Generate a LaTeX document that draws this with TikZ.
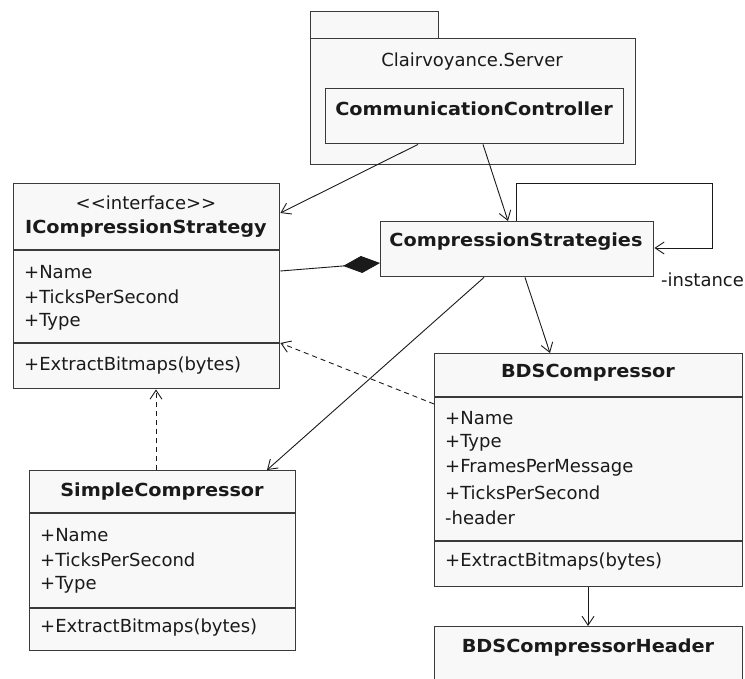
\documentclass[tikz,border=0pt]{standalone}
\usepackage{fontspec}
\setmainfont{DejaVu Sans}[BoldFeatures={FakeStretch=1.07}]
\usetikzlibrary{arrows.meta}
\definecolor{boxfill}{HTML}{F8F8F8}
\definecolor{edge}{HTML}{3A3A3A}
\definecolor{ink}{HTML}{1A1A1A}
\tikzset{
  box/.style={draw=edge, fill=boxfill, line width=1.4pt, inner sep=0pt, rectangle},
  divider/.style={draw=edge, line width=1.4pt},
  hdr/.style={font=\fontsize{18}{21}\selectfont\bfseries, text=ink, inner sep=0pt},
  attr/.style={font=\fontsize{18}{21}\selectfont, text=ink, inner sep=0pt, anchor=west},
  plain/.style={font=\fontsize{18}{21}\selectfont, text=ink, inner sep=0pt},
  assoc/.style={draw=ink, line width=0.9pt, -{Straight Barb[length=9pt,width=12pt]}},
  realize/.style={draw=ink, line width=0.9pt, dash pattern=on 5pt off 4pt, -{Straight Barb[length=9pt,width=12pt]}},
  compose/.style={draw=ink, line width=0.9pt, -{Diamond[length=37pt,width=17pt,fill=ink]}}
}
\begin{document}
\begin{tikzpicture}[x=1pt,y=-1pt]
\useasboundingbox (0,0) rectangle (745,679);
\clip (0,0) rectangle (745,679);
\fill[white] (0,0) rectangle (745,679);

% package
\node[box, anchor=north west, minimum width=128pt, minimum height=27pt] (tab) at (310,11) {};
\node[box, anchor=north west, minimum width=325pt, minimum height=126pt] (pkg) at (310,38) {};
\node[plain] (pkgname) at (472,62) {Clairvoyance.Server};
\node[box, anchor=north west, minimum width=298pt, minimum height=55pt] (cc) at (325,88) {};
\node[hdr] (cct) at (474,109) {CommunicationController};

% ICompressionStrategy
\node[box, anchor=north west, minimum width=266pt, minimum height=205pt] (ics) at (13,183) {};
\node[plain] (icsst) at (146,203) {{<}{<}interface{>}{>}};
\node[hdr] (icst) at (146,229) {ICompressionStrategy};
\draw[divider] (ics.west |- 0,250) -- (ics.east |- 0,250);
\node[attr] (icsa1) at (24,272) {+Name};
\node[attr] (icsa2) at (24,297) {+TicksPerSecond};
\node[attr] (icsa3) at (24,322) {+Type};
\draw[divider] (ics.west |- 0,343) -- (ics.east |- 0,343);
\node[attr] (icsm1) at (24,366) {+ExtractBitmaps(bytes)};

% CompressionStrategies
\node[box, anchor=north west, minimum width=273pt, minimum height=55pt] (cs) at (380,221) {};
\node[hdr] (cst) at (516,242) {CompressionStrategies};
\node[attr] (inst) at (661,280) {-instance};

% SimpleCompressor
\node[box, anchor=north west, minimum width=266pt, minimum height=180pt] (sc) at (29,470) {};
\node[hdr] (sct) at (162,492) {SimpleCompressor};
\draw[divider] (sc.west |- 0,513) -- (sc.east |- 0,513);
\node[attr] (sca1) at (40,535) {+Name};
\node[attr] (sca2) at (40,560) {+TicksPerSecond};
\node[attr] (sca3) at (40,585) {+Type};
\draw[divider] (sc.west |- 0,608) -- (sc.east |- 0,608);
\node[attr] (scm1) at (40,628) {+ExtractBitmaps(bytes)};

% BDSCompressor
\node[box, anchor=north west, minimum width=308pt, minimum height=233pt] (bds) at (434,353) {};
\node[hdr] (bdst) at (588,373) {BDSCompressor};
\draw[divider] (bds.west |- 0,397) -- (bds.east |- 0,397);
\node[attr] (bdsa1) at (445,418) {+Name};
\node[attr] (bdsa2) at (445,443) {+Type};
\node[attr] (bdsa3) at (445,468) {+FramesPerMessage};
\node[attr] (bdsa4) at (445,493) {+TicksPerSecond};
\node[attr] (bdsa5) at (445,518) {-header};
\draw[divider] (bds.west |- 0,541) -- (bds.east |- 0,541);
\node[attr] (bdsm1) at (445,562) {+ExtractBitmaps(bytes)};

% BDSCompressorHeader
\node[box, anchor=north west, minimum width=308pt, minimum height=90pt] (bdsh) at (434,626) {};
\node[hdr] (bdsht) at (588,648) {BDSCompressorHeader};

% connectors
\draw[assoc] (cc.south -| 418,0) -- (ics.east |- 0,213);
\draw[assoc] (cc.south -| 483,0) -- (cs.north -| 508,0);
\draw[compose] (ics.east |- 0,271) -- (cs.west |- 0,263);
\draw[assoc] (cs.north -| 516,0) |- (712,183) |- (cs.east |- 0,248);
\draw[assoc] (cs.south -| 484,0) -- (sc.north -| 267,0);
\draw[assoc] (cs.south -| 525,0) -- (bds.north -| 550,0);
\draw[realize] (sc.north -| 156,0) -- (ics.south -| 156,0);
\draw[realize] (bds.west |- 0,404) -- (ics.east |- 0,343);
\draw[assoc] (bds.south -| 588,0) -- (bdsh.north -| 588,0);
\end{tikzpicture}
\end{document}
